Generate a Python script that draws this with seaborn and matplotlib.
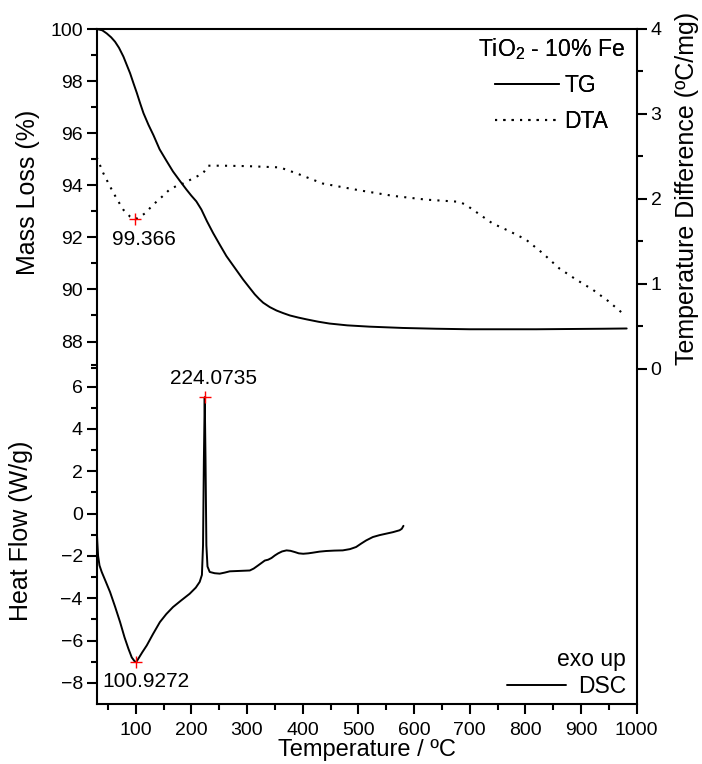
import numpy as np
import pandas as pd
import matplotlib
matplotlib.use("Agg")
import matplotlib.pyplot as plt
import seaborn as sns

# ---------------- data ----------------
tg_temp = [30, 40, 48, 56, 63, 70, 78, 84, 90, 96, 102, 108, 114, 123, 132, 143, 155, 167, 179, 191,
           200, 209, 218, 228, 239, 251, 263, 278, 293, 304, 314, 322, 329, 341, 353, 365, 377, 392,
           407, 428, 448, 480, 520, 580, 640, 700, 760, 820, 880, 940, 982]
tg_mass = [100.0, 99.95, 99.83, 99.68, 99.51, 99.28, 98.94, 98.62, 98.30, 97.92, 97.55, 97.15, 96.77,
           96.32, 95.92, 95.38, 94.95, 94.53, 94.18, 93.84, 93.60, 93.38, 93.07, 92.62, 92.17, 91.72,
           91.28, 90.83, 90.38, 90.08, 89.81, 89.63, 89.49, 89.32, 89.19, 89.09, 89.00, 88.92, 88.85,
           88.76, 88.69, 88.62, 88.57, 88.52, 88.49, 88.47, 88.47, 88.47, 88.48, 88.49, 88.50]

dta_temp = [30, 42, 54, 66, 78, 90, 99.366, 108, 117, 127, 138, 150, 161, 173, 185, 203, 221, 230, 257,
            300, 359, 389, 436, 502, 562, 622, 681, 693, 717, 741, 771, 801, 831, 861, 891, 921, 948, 975]
dta_diff = [2.49, 2.30, 2.145, 2.00, 1.87, 1.79, 1.76, 1.79, 1.83, 1.90, 1.97, 2.04, 2.11, 2.15, 2.18,
            2.24, 2.30, 2.39, 2.39, 2.385, 2.37, 2.30, 2.18, 2.10, 2.035, 1.99, 1.965, 1.93, 1.82,
            1.71, 1.62, 1.52, 1.36, 1.18, 1.05, 0.93, 0.80, 0.65]

dsc_temp = [30, 31, 32.5, 35, 39, 46, 54, 63, 72, 80, 87, 93, 98, 100.93, 105, 112, 120, 131, 143.5,
            155, 167, 182, 197, 208, 215, 219, 221, 222.5, 224.07, 225.5, 227, 229, 233, 242, 251, 260,
            269, 287, 305, 312, 320, 332, 338, 344, 350, 356, 363, 371, 378, 386, 393, 401, 410, 418,
            430, 442, 457, 472, 485, 496, 505, 514, 526, 538, 550, 562, 574, 578, 581]
dsc_flow = [-0.7, -1.3, -2.0, -2.45, -2.76, -3.2, -3.71, -4.4, -5.13, -5.85, -6.39, -6.8, -6.98, -7.02,
            -6.85, -6.55, -6.23, -5.7, -5.13, -4.75, -4.42, -4.1, -3.79, -3.5, -3.23, -2.9, -1.5, 2.5,
            5.5, 2.5, -1.5, -2.5, -2.76, -2.82, -2.84, -2.79, -2.73, -2.71, -2.69, -2.6, -2.45, -2.22,
            -2.18, -2.1, -1.98, -1.88, -1.79, -1.74, -1.76, -1.82, -1.88, -1.90, -1.88, -1.85, -1.80,
            -1.77, -1.75, -1.74, -1.68, -1.58, -1.42, -1.27, -1.11, -1.02, -0.95, -0.88, -0.79, -0.72,
            -0.58]

dta_peak = (99.366, 1.76)
dsc_peak_max = (224.0735, 5.5)
dsc_peak_min = (100.9272, -7.02)

x_major = [100, 200, 300, 400, 500, 600, 700, 800, 900, 1000]
heat_major = [-8, -6, -4, -2, 0, 2, 4, 6]
mass_major = [88, 90, 92, 94, 96, 98, 100]
dta_major = [0, 1, 2, 3, 4]

# ---------------- style ----------------
sns.set_style("ticks")
plt.rcParams["font.family"] = ["Liberation Sans", "DejaVu Sans"]
plt.rcParams["mathtext.fontset"] = "custom"
plt.rcParams["mathtext.rm"] = "Liberation Sans"
plt.rcParams["mathtext.it"] = "Liberation Sans:italic"
plt.rcParams["axes.linewidth"] = 1.5
plt.rcParams["text.color"] = "black"
plt.rcParams["axes.labelcolor"] = "black"
plt.rcParams["axes.edgecolor"] = "black"
plt.rcParams["legend.labelcolor"] = "black"

fig = plt.figure(figsize=(7.02, 7.64), dpi=100)
L, R, T, B = 96.7 / 702, 636.7 / 702, 1 - 29 / 764, 1 - 704 / 764
ax = fig.add_axes([L, B, R - L, T - B])
ax_tg = ax.twinx()
ax_dta = ax.twinx()

dsc_df = pd.DataFrame({"T": dsc_temp, "HF": dsc_flow})
tg_df = pd.DataFrame({"T": tg_temp, "M": tg_mass})
dta_df = pd.DataFrame({"T": dta_temp, "D": dta_diff})

sns.lineplot(data=dsc_df, x="T", y="HF", ax=ax, color="black", lw=1.4, sort=False, estimator=None)
sns.lineplot(data=tg_df, x="T", y="M", ax=ax_tg, color="black", lw=1.4, sort=False, estimator=None)
sns.lineplot(data=dta_df, x="T", y="D", ax=ax_dta, color="black", lw=1.5, sort=False, estimator=None,
             linestyle=(0, (1.0, 3.0)))
dsc_line = ax.lines[-1]
tg_line = ax_tg.lines[-1]
dta_line = ax_dta.lines[-1]

# markers
ax_dta.plot([dta_peak[0]], [dta_peak[1]], marker="+", color="red", ms=9, mew=1.0, ls="none")
ax.plot([dsc_peak_max[0]], [dsc_peak_max[1]], marker="+", color="red", ms=9, mew=1.0, ls="none")
ax.plot([dsc_peak_min[0]], [dsc_peak_min[1]], marker="+", color="red", ms=9, mew=1.0, ls="none")

ax_dta.annotate(f"{dta_peak[0]:g}", xy=dta_peak, xytext=(6.5, -18.5), textcoords="offset points",
                ha="center", va="baseline", fontsize=15, color="black")
ax.annotate(f"{dsc_peak_max[0]:.4f}", xy=dsc_peak_max, xytext=(6, 9.5), textcoords="offset points",
            ha="center", va="baseline", fontsize=15, color="black")
ax.annotate(f"{dsc_peak_min[0]:.4f}", xy=dsc_peak_min, xytext=(7, -18), textcoords="offset points",
            ha="center", va="baseline", fontsize=15, color="black")

# limits
ax.set_xlim(30, 1000)
ax.set_ylim(-9, 22.9)
ax_tg.set_ylim(74.08, 100)
ax_dta.set_ylim(-3.95, 4)

# ticks
ax.set_xticks(x_major)
ax.set_xticks(np.arange(50, 1000, 100), minor=True)
ax.set_yticks(heat_major)
ax.set_yticks(np.arange(-7, 8, 2), minor=True)
ax_tg.set_yticks(mass_major)
ax_tg.set_yticks(np.arange(87, 100, 2), minor=True)
ax_dta.set_yticks(dta_major)
ax_dta.set_yticks(np.arange(0.5, 4, 1), minor=True)

ax_tg.yaxis.tick_left()
ax_tg.yaxis.set_label_position("left")
ax_dta.yaxis.tick_right()

for a in (ax, ax_tg, ax_dta):
    a.tick_params(which="both", direction="out", width=1.5, labelsize=14, colors="black", pad=3)
    a.tick_params(which="major", length=7)
    a.tick_params(which="minor", length=4.5)
ax.tick_params(axis="y", right=False)
ax.tick_params(axis="x", top=False, pad=6)
for a in (ax_tg, ax_dta):
    for s in a.spines.values():
        s.set_visible(False)
for s in ax.spines.values():
    s.set_linewidth(1.5)
    s.set_color("black")

ax.set_xlabel("Temperature / ºC", fontsize=17, labelpad=0)
ax.set_ylabel("Heat Flow (W/g)", fontsize=18)
ax.yaxis.set_label_coords(-0.118, 0.256)
ax_tg.set_ylabel("Mass Loss (%)", fontsize=18)
ax_tg.yaxis.set_label_coords(-0.105, 0.758)
ax_dta.set_ylabel("Temperature Difference (ºC/mg)", fontsize=18)
ax_dta.yaxis.set_label_coords(1.071, 0.764)

# legends
leg1 = ax_dta.legend([tg_line, dta_line], ["TG", "DTA"], title=r"TiO$_\mathrm{2}$ - 10% Fe",
                     loc="upper right", bbox_to_anchor=(0.978, 0.99), frameon=False, fontsize=16.5,
                     title_fontsize=16.5, handlelength=2.8, handletextpad=0.25, labelspacing=0.55,
                     borderpad=0, borderaxespad=0)
ax_dta.add_artist(leg1)
leg2 = ax_tg.legend([dsc_line], ["DSC"], title="exo up", loc="lower right",
                    bbox_to_anchor=(0.98, 0.009), frameon=False, fontsize=16.5, title_fontsize=16.5,
                    handlelength=2.6, handletextpad=0.5, labelspacing=0.15, borderpad=0,
                    borderaxespad=0, alignment="right")
for lg in (leg1, leg2):
    lg.get_title().set_color("black")
if ax.get_legend() is not None:
    ax.get_legend().remove()

fig.savefig("out.png", dpi=100)
